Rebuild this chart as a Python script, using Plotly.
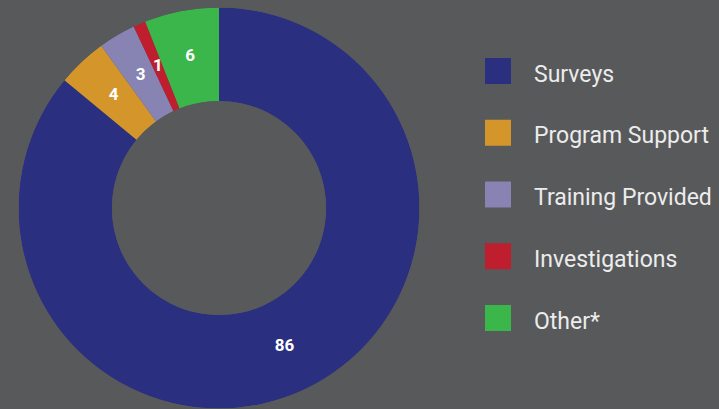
import plotly.graph_objects as go

labels = ["Surveys", "Program Support", "Training Provided", "Investigations", "Other*"]
values = [86, 4, 3, 1, 6]
colors = ["#2a2f7f", "#d4952b", "#8783b3", "#be1e2d", "#3bb64b"]

W, H = 719, 409
BG = "#58595b"
HOLE = 0.534
DOM = dict(x=[18.5 / W, 419.5 / W], y=[0.5 / H, 401.5 / H])

total = sum(values)
mids, widths, acc = [], [], 0
for v in values:
    mids.append((acc + v / 2) / total * 360)
    widths.append(v / total * 360)
    acc += v

fig = go.Figure()
# donut ring drawn as polar bars
fig.add_trace(go.Barpolar(
    r=[1] * len(values), theta=mids, width=widths, base=0,
    marker=dict(color=colors, line=dict(width=0)),
    customdata=values, text=labels,
    hovertemplate="%{text}: %{customdata}<extra></extra>",
    showlegend=False,
))
# value labels at the middle of each slice
fig.add_trace(go.Scatterpolar(
    r=[0.5] * len(values), theta=mids, mode="text",
    text=[str(v) for v in values],
    textfont=dict(family="Roboto", size=17, color="white", weight="bold"),
    showlegend=False, hoverinfo="skip",
))

# manual legend (large square swatches)
shapes, annots = [], []
row0, step = 71, 61.75
for i, (lab, col) in enumerate(zip(labels, colors)):
    cy = row0 + i * step
    shapes.append(dict(type="rect", xref="paper", yref="paper",
                       x0=485 / W, x1=511 / W, y0=1 - (cy + 13) / H, y1=1 - (cy - 13) / H,
                       fillcolor=col, line=dict(width=0)))
    annots.append(dict(xref="paper", yref="paper", x=532 / W, y=1 - (cy + 3) / H,
                       xanchor="left", yanchor="middle", showarrow=False, text=lab,
                       font=dict(family="Roboto", size=23, color="#ececec")))

fig.update_layout(
    width=W, height=H, margin=dict(l=0, r=0, t=0, b=0),
    paper_bgcolor=BG, plot_bgcolor=BG,
    polar=dict(
        domain=DOM, bgcolor="rgba(0,0,0,0)", hole=HOLE, bargap=0,
        radialaxis=dict(range=[0, 1], visible=False, showgrid=False, showline=False),
        angularaxis=dict(rotation=90, direction="clockwise", visible=False,
                         showgrid=False, showline=False),
    ),
    shapes=shapes, annotations=annots,
)
fig.write_html(
    "out.html",
    config={"displayModeBar": False},
    post_script="document.body.style.margin='0';document.body.style.background='%s';" % BG,
)
